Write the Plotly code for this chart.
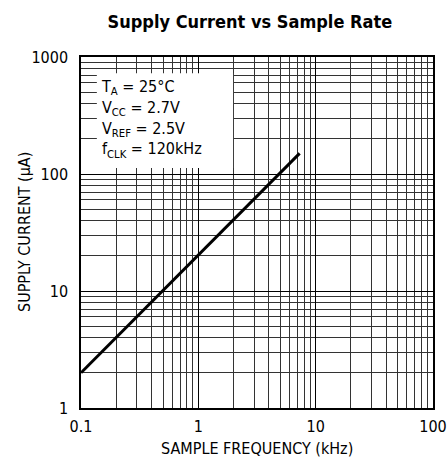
import plotly.graph_objects as go

freq_khz = [0.1, 7.3]
current_ua = [2.0, 150.0]
x_ticks = [0.1, 1, 10, 100]
x_labels = ["0.1", "1", "10", "100"]
y_ticks = [1, 10, 100, 1000]
y_labels = ["1", "10", "100", "1000"]
cond_lines = ["T<sub>A</sub> = 25°C", "V<sub>CC</sub> = 2.7V",
              "V<sub>REF</sub> = 2.5V", "f<sub>CLK</sub> = 120kHz"]
x_title = "SAMPLE FREQUENCY (kHz)"
y_title = "SUPPLY CURRENT (µA)"

FONT = "DejaVu Sans Condensed, Liberation Sans Narrow, sans-serif"

fig = go.Figure()
fig.add_trace(go.Scatter(x=freq_khz, y=current_ua, mode="lines",
                         line=dict(color="black", width=3), showlegend=False))

axis_common = dict(
    type="log", showline=True, linecolor="black", linewidth=1.5, mirror=True,
    showgrid=True, gridcolor="black", gridwidth=1, zeroline=False,
    ticks="outside", tickcolor="rgba(0,0,0,0)", automargin=False,
    tickfont=dict(family=FONT, size=16, color="black"),
    minor=dict(showgrid=True, gridcolor="#333333", gridwidth=1, dtick="D1"),
)

fig.update_xaxes(range=[-1, 2], tickvals=x_ticks, ticktext=x_labels, ticklen=3,
                 **axis_common)
fig.update_yaxes(range=[0, 3], tickvals=y_ticks, ticktext=y_labels, ticklen=8,
                 **axis_common)

# axis titles as annotations for exact placement
fig.add_annotation(xref="paper", yref="paper", x=0.5, y=-0.116,
                   xanchor="center", yanchor="middle", showarrow=False,
                   text=x_title, font=dict(family=FONT, size=16, color="black"))
fig.add_annotation(xref="paper", yref="paper", x=-0.1605, y=0.5, textangle=-90,
                   xanchor="center", yanchor="middle", showarrow=False,
                   text=y_title, font=dict(family=FONT, size=16, color="black"))

# white box behind conditions text
fig.add_shape(type="rect", xref="paper", yref="paper",
              x0=0.045, x1=0.432, y0=0.684, y1=0.954,
              fillcolor="white", line=dict(width=0), layer="above")

fig.add_annotation(xref="paper", yref="paper", x=0.052, y=0.948,
                   xanchor="left", yanchor="top", align="left", showarrow=False,
                   text="<br>".join(cond_lines),
                   font=dict(family=FONT, size=16, color="black"))

fig.update_layout(
    width=447, height=461,
    margin=dict(l=81, r=14, t=57, b=53, autoexpand=False),
    paper_bgcolor="white", plot_bgcolor="white",
    title=dict(text="<b>Supply Current vs Sample Rate</b>", x=0.559, xanchor="center",
               y=0.952, yanchor="middle",
               font=dict(family=FONT, size=18, color="black")),
)

fig.write_html("out.html", config={"displayModeBar": False}, post_script=(
    "document.documentElement.style.margin='0';"
    "document.body.style.margin='0';"
    "document.documentElement.style.overflow='hidden';"
    "document.body.style.overflow='hidden';"))
